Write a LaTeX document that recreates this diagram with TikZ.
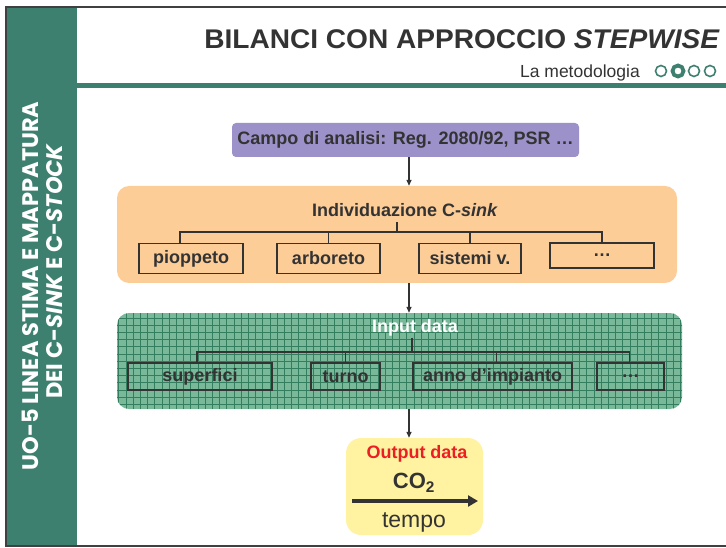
\documentclass[tikz,border=0pt]{standalone}
\usepackage{fontspec}
\setmainfont{Liberation Sans}
\newfontfamily\sidefont{Poppins}
\usetikzlibrary{calc, positioning, arrows.meta}

\definecolor{framegray}{RGB}{64,64,64}
\definecolor{txtgray}{RGB}{51,51,51}
\definecolor{sidegreen}{RGB}{62,128,112}
\definecolor{campofill}{RGB}{156,145,200}
\definecolor{sinkfill}{RGB}{253,205,152}
\definecolor{gridfill}{RGB}{122,184,154}
\definecolor{gridline}{RGB}{50,126,94}
\definecolor{outfill}{RGB}{255,242,160}
\definecolor{outred}{RGB}{235,30,36}

\begin{document}
\begin{tikzpicture}[x = 1pt, y = -1pt,
  box/.style = {draw = txtgray, line width = 1.6pt, inner sep = 0pt, minimum height = 30pt, text = txtgray, font = \fontsize{18}{20}\selectfont\bfseries},
  panel/.style = {rounded corners = 12pt, inner sep = 0pt},
  lbl/.style = {inner sep = 0pt, text = txtgray, font = \fontsize{18}{20}\selectfont\bfseries},
  side/.style = {inner sep = 0pt, text = white, rotate = 90, font = \sidefont\fontsize{22.5}{24}\selectfont\bfseries},
  link/.style = {draw = txtgray, line width = 1.3pt},
  arr/.style = {link, -{Triangle[length = 6pt, width = 5pt]}}]
\useasboundingbox (0,0) rectangle (726,548);

% frame, side bar, header
\fill[sidegreen] (7,8) rectangle (77,546);
\draw[framegray, line width = 2pt] (726,7) -- (6,7) -- (6,546) -- (726,546);
\fill[sidegreen] (77,83) rectangle (726,88);
\node[side] (uoa) at (30,286) {UO-5 LINEA STIMA E MAPPATURA};
\node[side] (uob) at (55,271) {DEI C-\textit{SINK} E C-\textit{STOCK}};
\node[anchor = base east, inner sep = 0pt, xscale = 1.04, text = txtgray, font = \fontsize{27}{29}\selectfont\bfseries] (title) at (720,49) {BILANCI CON APPROCCIO \textit{STEPWISE}};
\node[anchor = base east, inner sep = 0pt, text = txtgray, font = \fontsize{17.5}{19}\selectfont] (subtitle) at (640,78) {La metodologia};
\foreach \x/\w in {661/1.6, 678/3.8, 694/1.6, 710/1.6}{
\draw[sidegreen, line width = \w pt] (\x,71) circle (5.5pt);
}

% campo
\node[lbl, fill = campofill, rounded corners = 4pt, minimum width = 347pt, minimum height = 34pt] (campo) at (405.5,140) {Campo di analisi: Reg. 2080/92, PSR …};

% C-sink
\node[panel, fill = sinkfill, minimum width = 560pt, minimum height = 97pt] (sink) at (397,234.5) {};
\node[lbl] (sinktitle) at (405,210) {Individuazione C-\textit{sink}};
\node[box, minimum width = 104pt] (pioppeto) at (191,258.5) {pioppeto};
\node[box, minimum width = 103pt] (arboreto) at (328.5,258.5) {arboreto};
\node[box, minimum width = 102pt] (sistemi) at (470,258.5) {sistemi v.};
\node[box, minimum width = 104pt, minimum height = 25pt] (sinkmore) at (602,255.5) {…};
\coordinate (sinkstub) at (397,222);
\coordinate (sinkbar) at (397,232);
\draw[link] (sinkstub) -- (sinkbar);
\foreach \i/\dx in {pioppeto/-11, arboreto/0, sistemi/0, sinkmore/0}{
\draw[link] (sinkbar) -| ([xshift = \dx pt]\i.north);
}

% input data
\node[panel, fill = gridfill, minimum width = 565pt, minimum height = 96pt,
  path picture = {\draw[gridline, line width = 0.45pt, step = 7.2pt] (path picture bounding box.south west) grid (path picture bounding box.north east);}] (input) at (399.5,361) {};
\node[lbl, text = white] (inputtitle) at (415,328) {Input data};
\node[box, minimum width = 144pt, minimum height = 27pt] (superfici) at (200,376.5) {superfici};
\node[box, minimum width = 69pt, minimum height = 27pt] (turno) at (345.5,376.5) {turno};
\node[box, minimum width = 159pt, minimum height = 27pt] (anno) at (492.5,376.5) {anno d’impianto};
\node[box, minimum width = 67pt, minimum height = 27pt] (inputmore) at (630.5,376.5) {…};
\coordinate (inputstub) at (412,338);
\coordinate (inputbar) at (412,352);
\draw[link] (inputstub) -- (inputbar);
\foreach \i/\dx in {superfici/-3, turno/0, anno/4, inputmore/-1}{
\draw[link] (inputbar) -| ([xshift = \dx pt]\i.north);
}

% output data
\node[panel, rounded corners = 15pt, fill = outfill, minimum width = 137pt, minimum height = 97pt] (output) at (414.5,486.5) {};
\node[lbl, text = outred] (outtitle) at (417,454) {Output data};
\node[lbl, font = \fontsize{22}{24}\selectfont\bfseries] (co) at (414,483) {CO\textsubscript{2}};
\coordinate (tstart) at (352,501);
\coordinate (tend) at (478,501);
\draw[txtgray, line width = 3.5pt, -{Triangle[length = 10pt, width = 11pt]}] (tstart) -- (tend);
\node[inner sep = 0pt, text = txtgray, font = \fontsize{23}{25}\selectfont] (tempo) at (414,522) {tempo};

% arrows between steps
\coordinate (arrx) at (409,0);
\draw[arr] (campo.south -| arrx) -- (sink.north -| arrx);
\draw[arr] (sink.south -| arrx) -- (input.north -| arrx);
\draw[arr] (input.south -| arrx) -- (output.north -| arrx);
\end{tikzpicture}
\end{document}
